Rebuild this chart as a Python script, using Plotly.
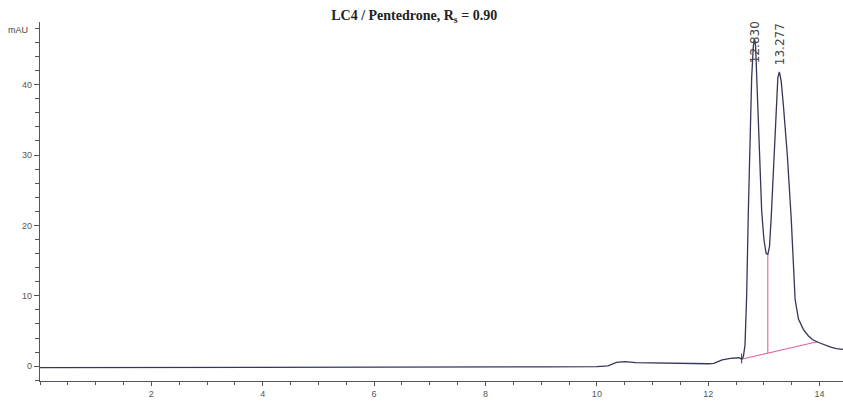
import plotly.graph_objects as go

# Chromatogram trace (time in min, absorbance in mAU)
time_min = [0.0, 1.0, 2.0, 3.0, 4.0, 5.0, 6.0, 7.0, 8.0, 9.0, 10.0, 10.2, 10.35, 10.5, 10.7,
            11.0, 11.5, 12.0, 12.1, 12.25, 12.4, 12.55, 12.6, 12.63, 12.66, 12.69, 12.72,
            12.75, 12.78, 12.81, 12.83, 12.85, 12.88, 12.92, 12.96, 13.0, 13.04, 13.07,
            13.1, 13.13, 13.17, 13.21, 13.25, 13.277, 13.31, 13.35, 13.42, 13.49, 13.53,
            13.56, 13.62, 13.71, 13.8, 13.87, 13.97, 14.1, 14.2, 14.3, 14.42]
absorb_mau = [-0.2, -0.2, -0.2, -0.15, -0.15, -0.1, -0.1, -0.1, -0.1, -0.1, -0.05, 0.05, 0.55, 0.65, 0.5,
              0.45, 0.35, 0.35, 0.4, 0.9, 1.1, 1.2, 1.0, 1.3, 3.0, 10.0, 22.0,
              33.0, 41.0, 45.5, 46.5, 45.5, 39.0, 29.0, 22.0, 18.0, 16.0, 15.9,
              17.0, 21.0, 28.0, 36.0, 41.0, 41.8, 40.5, 37.0, 30.0, 21.0, 14.0,
              9.5, 6.7, 5.2, 4.3, 3.8, 3.4, 3.0, 2.7, 2.5, 2.4]

# Integration baseline and drop line
baseline_x = [12.6, 13.97]
baseline_y = [1.0, 3.5]
drop_x = [13.07, 13.07]
drop_y = [1.85, 15.9]
start_mark_x = [12.6, 12.6]
start_mark_y = [0.4, 1.8]

# Peak labels
peak_times = [12.830, 13.277]
peak_labels = ["12.830", "13.277"]
label_y = [46.1, 45.8]

x_tick_vals = [2, 4, 6, 8, 10, 12, 14]
y_tick_vals = [0, 10, 20, 30, 40]

line_col = "#34365c"
pink = "#e0559a"

fig = go.Figure()
fig.add_trace(go.Scatter(x=baseline_x, y=baseline_y, mode="lines",
                         line=dict(color=pink, width=1), hoverinfo="skip"))
fig.add_trace(go.Scatter(x=drop_x, y=drop_y, mode="lines",
                         line=dict(color=pink, width=1), hoverinfo="skip"))
fig.add_trace(go.Scatter(x=time_min, y=absorb_mau, mode="lines",
                         line=dict(color=line_col, width=1.3)))
fig.add_trace(go.Scatter(x=start_mark_x, y=start_mark_y, mode="lines",
                         line=dict(color=line_col, width=1), hoverinfo="skip"))

for t, lab, ly in zip(peak_times, peak_labels, label_y):
    fig.add_annotation(x=t, y=ly, text=lab, textangle=-90, showarrow=False,
                       xanchor="center", yanchor="middle",
                       font=dict(family="DejaVu Sans", size=12, color="#444"))

fig.add_annotation(xref="paper", yref="paper", x=-0.012, y=0.978, text="mAU",
                   showarrow=False, xanchor="right", yanchor="middle",
                   font=dict(family="Arial", size=9, color="#444"))

fig.update_layout(
    width=843, height=405,
    margin=dict(l=40, r=0, t=22, b=24, autoexpand=False),
    paper_bgcolor="white", plot_bgcolor="white",
    showlegend=False,
    title=dict(text="LC4 / Pentedrone, R<sub>s</sub> = 0.90", x=0.466, y=0.963,
               xref="paper", yref="container", xanchor="center", yanchor="middle",
               automargin=False,
               font=dict(family="Liberation Serif", size=14, color="#222", weight="bold")),
)
fig.update_xaxes(range=[0, 14.42], tickvals=x_tick_vals, ticks="outside", ticklen=4,
                 tickcolor="#555", showline=True, linecolor="#555", linewidth=1.2,
                 showgrid=False, zeroline=False, automargin=False,
                 tickfont=dict(family="Arial", size=9, color="#555"),
                 minor=dict(dtick=0.5, tick0=0, ticks="outside", ticklen=3, tickcolor="#555"))
fig.update_yaxes(range=[-2.1, 48.9], tickvals=y_tick_vals, ticks="outside", ticklen=5,
                 tickcolor="#555", showline=True, linecolor="#555", linewidth=1.2,
                 showgrid=False, zeroline=False, automargin=False,
                 tickfont=dict(family="Arial", size=9, color="#555"),
                 minor=dict(dtick=2, tick0=0, ticks="outside", ticklen=4, tickcolor="#555"))

fig.write_html("out.html", config={"displayModeBar": False},
               post_script="document.body.style.margin='0';")
